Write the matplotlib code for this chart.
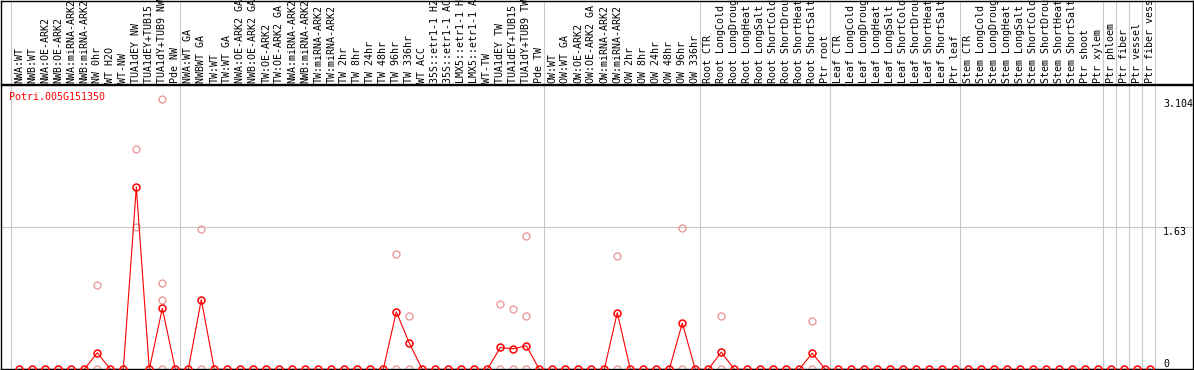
import matplotlib
matplotlib.use('Agg')
import matplotlib.pyplot as plt
import matplotlib.transforms as mtransforms

# data -------------------------------------------------------------------------
labels = [
    # NW
    'NWA:WT', 'NWB:WT', 'NWA:OE-ARK2', 'NWB:OE-ARK2', 'NWA:miRNA-ARK2', 'NWB:miRNA-ARK2',
    'NW 0hr', 'WT H2O', 'WT-NW', 'TUA1dEY NW', 'TUA1dEY+TUB15 NW', 'TUA1dY+TUB9 NW', 'Pde NW',
    # TW
    'NWA:WT GA', 'NWBWT GA', 'TW:WT', 'TW:WT GA', 'NWA:OE-ARK2 GA', 'NWB:OE-ARK2 GA',
    'TW:OE-ARK2', 'TW:OE-ARK2 GA', 'NWA:miRNA-ARK2', 'NWB:miRNA-ARK2', 'TW:miRNA-ARK2',
    'TW:miRNA-ARK2', 'TW 2hr', 'TW 8hr', 'TW 24hr', 'TW 48hr', 'TW 96hr', 'TW 336hr',
    'WT ACC', '35S::etr1-1 H2O', '35S::etr1-1 ACC', 'LMX5::etr1-1 H2O', 'LMX5::etr1-1 ACC',
    'WT-TW', 'TUA1dEY TW', 'TUA1dEY+TUB15 TW', 'TUA1dY+TUB9 TW', 'Pde TW',
    # OW
    'OW:WT', 'OW:WT GA', 'OW:OE-ARK2', 'OW:OE-ARK2 GA', 'OW:miRNA-ARK2', 'OW:miRNA-ARK2',
    'OW 2hr', 'OW 8hr', 'OW 24hr', 'OW 48hr', 'OW 96hr', 'OW 336hr',
    # Root
    'Root CTR', 'Root LongCold', 'Root LongDrought', 'Root LongHeat', 'Root LongSalt',
    'Root ShortCold', 'Root ShortDrought', 'Root ShortHeat', 'Root ShortSalt', 'Ptr root',
    # Leaf
    'Leaf CTR', 'Leaf LongCold', 'Leaf LongDrought', 'Leaf LongHeat', 'Leaf LongSalt',
    'Leaf ShortCold', 'Leaf ShortDrought', 'Leaf ShortHeat', 'Leaf ShortSalt', 'Ptr leaf',
    # Stem
    'Stem CTR', 'Stem LongCold', 'Stem LongDrought', 'Stem LongHeat', 'Stem LongSalt',
    'Stem ShortCold', 'Stem ShortDrought', 'Stem ShortHeat', 'Stem ShortSalt', 'Ptr shoot',
    'Ptr xylem',
    'Ptr phloem', 'Ptr fiber', 'Ptr vessel', 'Ptr fiber vessel',
]

group_sizes = [13, 28, 12, 10, 10, 11, 1, 1, 1, 1]

expr_nw = [0, 0, 0, 0, 0, 0, 0.19, 0, 0, 2.09, 0, 0.70, 0]
expr_tw = [0, 0.80, 0, 0, 0, 0, 0, 0, 0, 0, 0, 0, 0, 0, 0, 0, 0.66, 0.30,
           0, 0, 0, 0, 0, 0, 0.25, 0.235, 0.27, 0]
expr_ow = [0, 0, 0, 0, 0, 0.65, 0, 0, 0, 0, 0.53, 0]
expr_root = [0, 0.197, 0, 0, 0, 0, 0, 0, 0.185, 0]
expr_leaf = [0, 0, 0, 0, 0, 0, 0, 0, 0, 0]
expr_stem = [0, 0, 0, 0, 0, 0, 0, 0, 0, 0, 0]
expr_ptr = [0, 0, 0, 0]
expr = expr_nw + expr_tw + expr_ow + expr_root + expr_leaf + expr_stem + expr_ptr

# replicate samples (index, value)
rep_idx = [6, 6, 9, 9, 11, 11, 11, 11, 14, 14, 29, 29, 30, 30, 37, 37, 38, 38,
           39, 39, 39, 46, 46, 51, 51, 54, 54, 61, 61]
rep_val = [0.97, 0, 2.53, 1.63, 3.104, 0.99, 0.80, 0, 1.61, 0, 1.32, 0, 0.61, 0,
           0.75, 0, 0.69, 0, 1.53, 0.61, 0, 1.295, 0, 1.62, 0, 0.61, 0, 0.555, 0]

gene = 'Potri.005G151350'
ytick_vals = [3.104, 1.63, 0]

# plot -------------------------------------------------------------------------
W, H = 1194, 370
fig = plt.figure(figsize=(W / 100, H / 100), dpi=100)
mono = 'DejaVu Sans Mono'
gray = '#c8c8c8'

ax = fig.add_axes([1 / W, 0.7 / H, 1192 / W, 284.3 / H])
ax_top = fig.add_axes([1 / W, 1 - 84.3 / H, 1192 / W, 83.6 / H], sharex=ax)

x = list(range(len(labels)))
ax.set_xlim(-1.408, 90.285)
ax.set_ylim(0, 3.26)
ax_top.set_ylim(0, 1)

for a in (ax, ax_top):
    a.set_xticks([])
    a.set_yticks([])
    for s in a.spines.values():
        s.set_color('black')
        s.set_linewidth(1.0)

# group dividers
pos = -1
divs = [pos + 0.36]
for g in group_sizes:
    pos += g
    divs.append(pos + 0.36)
for d in divs:
    ax.axvline(d, color=gray, lw=0.8, zorder=0)
    ax_top.axvline(d, color=gray, lw=0.8, zorder=0)

ax.axhline(1.63, color=gray, lw=0.8, zorder=0)

# replicates then mean line
ax.plot(rep_idx, rep_val, linestyle='none', marker='o', ms=5, mfc='none',
        mec='#eb9b9b', mew=1.0, zorder=2)
ax.plot(x, expr, color='#ff0000', lw=0.8, marker='o', ms=5, mfc='none',
        mec='#ff0000', mew=1.1, zorder=3)

ax.text(0.007, 0.958, gene, transform=ax.transAxes, color='#ff0000',
        family=mono, fontsize=7.2, va='center', ha='left')

trans = mtransforms.blended_transform_factory(ax.transAxes, ax.transData)
for v in ytick_vals:
    ax.text(0.975, v, ('%g' % v), transform=trans, family=mono, fontsize=7.2,
            ha='left', va='bottom' if v == 0 else 'top')

# sample names, long ones run off the top edge like in the original
for i, lab in enumerate(labels):
    ax_top.text(i, 0.02, lab, rotation=90, ha='center', va='bottom',
                family=mono, fontsize=7.2, color='black')

fig.savefig('out.png', dpi=100)
